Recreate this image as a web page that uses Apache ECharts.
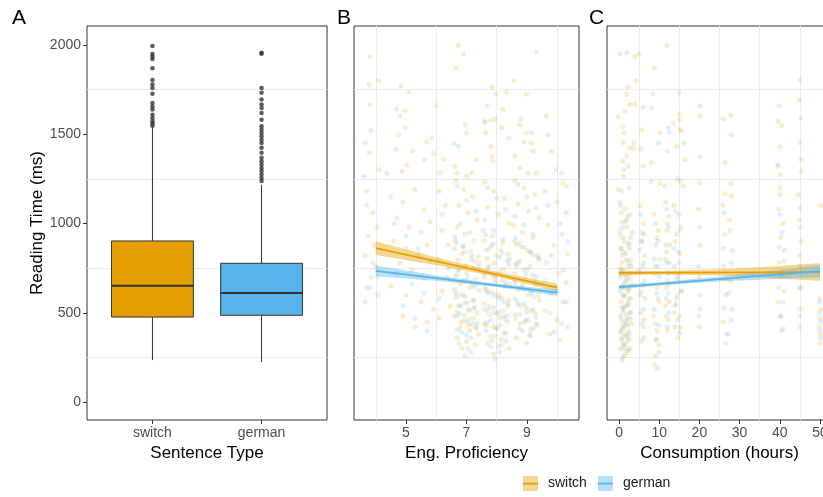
<!DOCTYPE html>
<html>
<head>
<meta charset="utf-8">
<title>Reading time</title>
<script src="https://cdn.jsdelivr.net/npm/echarts@6.0.0/dist/echarts.min.js"></script>
<style>
html, body { margin: 0; padding: 0; background: #fff; }
#chart { width: 823px; height: 497px; }
</style>
</head>
<body>
<div id="chart"></div>
<script>
// ---- values ----
const categories = ['switch', 'german']
const yTicks = [0, 500, 1000, 1500, 2000]
const yGrid = [250, 750, 1250, 1750]
const profTicks = [5, 7, 9]
const profGrid = [4, 6, 8, 10]
const consTicks = [0, 10, 20, 30, 40, 50]
const consGrid = [5, 15, 25, 35, 45]

// box stats: [x, lower whisker, Q1, median, Q3, upper whisker]
const boxSwitch = [1, 235, 476, 652, 902, 1541]
const boxGerman = [2, 224, 486, 611, 777, 1216]
const outSwitch = [1993, 1948, 1935, 1920, 1868, 1803, 1777, 1758, 1726, 1674, 1655, 1637, 1609, 1590, 1572, 1560, 1547]
const outGerman = [1955, 1950, 1758, 1732, 1693, 1665, 1646, 1618, 1581, 1544, 1525, 1506, 1488, 1469, 1450, 1423, 1395, 1367, 1348, 1330, 1311, 1293, 1274, 1255, 1237]

// panel B: proficiency vs reading time (jittered points)
const profSwitchPts = [
  [3.81,1935],[6.73,1996],[6.9,1950],[6.65,1870],[4.09,1800],[4.83,1771],[3.78,1777],[8.57,1800],[7.85,1763],[8.32,1734],
  [8.98,1725],[3.81,1665],[5.99,1660],[5.08,1734],[4.8,1603],[4.97,1631],[3.79,1395],[4.75,1497],[4.97,1535],[5.22,1404],
  [5.85,1479],[5.68,1454],[5.02,1324],[4.86,1292],[4.12,1302],[5.92,1391],[6.23,1358],[6.12,1283],[6.62,1320],[6.67,1283],
  [6.95,1553],[7.0,1507],[7.61,1566],[7.8,1577],[7.64,1507],[7.94,1585],[8.21,1637],[8.16,1535],[7.81,1432],[7.83,1376],
  [7.88,1348],[7.33,1358],[7.17,1283],[7.0,1264],[8.76,1553],[8.98,1507],[9.64,1603],[9.15,1451],[9.2,1404],[8.9,1454],
  [9.81,1404],[8.6,1376],[8.76,1311],[9.04,1283],[9.31,1283],[9.97,1302],[10.19,1227],[10.31,1208],
  [3.7,1180],[3.9,1060],[4.05,980],[3.75,930],[3.95,880],[3.65,820],[4.0,760],[3.85,700],[3.7,640],[4.05,600],
  [4.5,1150],[4.9,1120],[5.3,1190],[5.6,1080],[4.7,1030],[5.1,980],[5.5,950],[5.8,1010],[4.6,900],[5.0,860],
  [5.4,830],[5.7,880],[4.8,780],[5.2,740],[5.6,690],[4.5,650],[5.0,600],[5.5,560],[5.9,520],[4.9,480],[5.3,420],[5.7,450],
  [6.1,1180],[6.3,1100],[6.2,960],[6.4,880],[6.05,800],[6.35,700],[6.2,620],[6.45,540],[6.1,470],
  [6.65,1240],[6.9,1190],[7.2,1150],[6.75,1100],[7.05,1060],[7.35,1020],[6.7,980],[6.95,940],[7.25,900],[6.6,860],
  [6.85,830],[7.15,800],[7.4,780],[6.7,740],[7.0,720],[7.3,690],[6.8,660],[7.1,640],[6.65,610],[6.95,590],
  [7.25,570],[6.75,540],[7.05,520],[7.35,500],[6.6,480],[6.9,460],[7.2,440],[6.8,420],[7.1,400],[7.4,380],
  [6.7,360],[7.0,340],[7.3,320],[6.85,300],[7.15,280],
  [6.62,905],[6.88,872],[7.12,845],[7.38,815],[6.72,795],[6.98,765],[7.22,748],[6.63,705],[6.92,680],[7.18,655],
  [7.42,625],[6.78,598],[7.02,556],[7.28,530],[6.68,505],[6.93,488],[7.22,470],[6.82,448],[7.08,432],[7.33,410],
  [7.6,1230],[7.9,1180],[8.25,1140],[7.7,1090],[8.05,1050],[8.4,1000],[7.55,960],[7.85,930],[8.2,890],[7.65,850],
  [8.0,820],[8.35,790],[7.75,760],[8.1,730],[7.6,700],[7.95,670],[8.3,650],[7.7,620],[8.05,600],[8.4,570],
  [7.6,550],[7.9,530],[8.2,510],[7.75,490],[8.1,470],[8.35,450],[7.65,430],[8.0,410],[8.3,390],[7.8,370],
  [8.15,350],[7.7,330],[8.05,310],[8.4,300],[7.9,270],
  [7.58,905],[7.82,875],[8.12,852],[8.38,828],[7.68,805],[7.92,778],[8.22,745],[7.58,722],[7.88,705],[8.18,685],
  [8.42,662],[7.62,640],[7.85,612],[8.15,585],[8.38,540],[7.72,515],[8.02,495],[8.28,465],[7.58,440],[7.88,420],
  [8.6,1240],[8.9,1200],[9.25,1160],[8.7,1110],[9.05,1070],[9.4,1030],[8.55,990],[8.85,950],[9.2,920],[8.65,880],
  [9.0,850],[9.35,820],[8.75,790],[9.1,760],[8.6,720],[8.95,690],[9.3,660],[8.7,630],[9.05,600],[9.4,570],
  [8.8,540],[9.15,510],[8.6,490],[8.95,460],[9.3,440],[8.75,410],[9.1,380],[8.65,360],[9.0,330],
  [8.58,900],[8.82,868],[9.12,840],[9.38,805],[8.62,775],[8.88,742],[9.18,712],[8.58,682],[8.85,655],[9.12,625],
  [9.38,598],[8.68,565],[8.98,528],[9.28,498],[8.62,468],[8.92,445],[9.22,415],
  [9.6,1180],[10.0,1120],[10.3,1060],[9.7,990],[10.15,940],[9.9,880],[10.35,830],[9.65,780],[10.05,720],[10.3,670],
  [9.8,610],[10.2,560],[9.6,510],[10.0,460],[10.35,420],[9.75,380],[10.1,350]
]
const profGermanPts = [
  [9.31,1959],[4.69,1640],[3.84,1521],[3.65,1451],[4.67,1417],[4.36,1279],[3.62,1264],[5.6,1358],[6.73,1432],[6.58,1447],
  [7.7,1660],[7.97,1726],[8.8,1585],[9.15,1507],[9.7,1497],[10.14,1279],[7.6,1570],[8.4,1480],
  [3.7,1100],[3.9,780],[4.05,700],[3.65,560],[3.8,640],[4.6,1000],[5.0,930],[5.4,860],[5.8,790],[4.7,720],
  [5.2,660],[5.6,610],[4.9,540],[5.3,470],[5.7,400],[6.2,1050],[6.4,750],[6.1,580],
  [6.7,1210],[7.0,1130],[7.3,1070],[6.8,1000],[7.1,950],[6.65,890],[6.95,840],[7.25,790],[6.75,740],[7.05,700],
  [7.35,660],[6.6,630],[6.9,600],[7.2,570],[6.8,540],[7.1,510],[6.7,480],[7.0,450],[7.3,420],[6.85,390],
  [7.15,360],[6.75,330],[7.05,300],[6.95,260],
  [6.62,925],[6.9,870],[7.18,820],[7.4,760],[6.7,715],[6.98,680],[7.25,645],[6.65,585],[6.95,555],[7.22,525],
  [6.78,495],[7.08,465],[7.35,440],[6.7,405],[7.0,375],
  [7.7,1200],[8.0,1140],[8.3,1080],[7.6,1020],[7.9,960],[8.2,910],[7.75,860],[8.1,810],[8.4,770],[7.65,730],
  [7.95,690],[8.25,650],[7.7,610],[8.05,580],[8.35,550],[7.6,520],[7.9,500],[8.2,480],[7.8,460],[8.1,430],
  [7.65,400],[7.95,370],[8.3,340],[7.8,310],[8.1,280],[7.95,240],
  [7.62,935],[7.88,885],[8.18,835],[8.42,800],[7.7,750],[7.98,710],[8.28,670],[7.62,630],[7.92,595],[8.22,565],
  [7.75,535],[8.05,505],[8.35,485],[7.68,445],[7.98,415],[8.25,385],[7.85,345],[8.15,320],
  [8.7,1220],[9.0,1150],[9.3,1090],[8.6,1040],[8.9,990],[9.2,940],[8.75,890],[9.1,840],[9.4,800],[8.65,760],
  [8.95,720],[9.25,680],[8.8,640],[9.15,610],[8.6,580],[8.9,550],[9.2,520],[8.75,490],[9.05,460],[9.35,430],
  [8.85,400],[9.1,370],
  [8.62,920],[8.9,870],[9.2,825],[8.7,780],[9.0,745],[9.3,705],[8.62,665],[8.92,630],[9.22,590],[8.7,545],
  [9.0,505],[9.3,475],[8.78,440],[9.12,405],
  [9.7,1100],[10.1,1000],[10.35,900],[9.8,820],[10.2,740],[9.6,680],[10.0,620],[10.3,560],[9.75,500],[10.15,440],[9.9,390]
]
// fitted lines and confidence bands, panel B
const profFitX = [4, 10]
const profFitSwitch = [862, 641]
const profFitGerman = [734, 613]
const profBandX = [4, 6, 8, 10]
const profSwitchLo = [824, 766, 701, 620]
const profSwitchHi = [900, 810, 729, 662]
const profGermanLo = [704, 680, 644, 595]
const profGermanHi = [764, 708, 662, 631]

// panel C: consumption hours vs reading time
const consSwitchPts = [
  [4.0,1935],[5.05,1948],[11.9,1996],[8.8,1870],[4.2,1799],[2.15,1763],[1.9,1721],[-0.3,1596],[1.5,1627],[2.7,1665],
  [4.0,1669],[15.0,1730],[14.9,1613],[15.2,1525],[20.1,1659],[20.1,1600],[26.0,1584],[27.8,1605],[26.4,1342],[20.1,1373],
  [39.6,1572],[40.5,1547],[40.1,1432],[39.6,1320],[40.1,1274],[45,1804],[44.9,1693],[45,1451],[45.3,1358],[45.4,1292],
  [10.2,1507],[14.3,1432],[15.6,1516],[15,1581],[13.5,1562],[16.2,1451],[16.4,1358],[8.0,1342],[6.0,1320],[5.6,1525],
  [3.6,1451],[3.6,1423],[0.9,1543],[1.3,1507],[1.1,1451],[2.6,1423],[1.9,1376],[0.9,1348],[2.3,1320],[1.1,1264],
  [-0.2,1190],[8.0,1236],[10.2,1227],[11.4,1209],[15.2,1236],[16.0,1209],[20.0,1227],[27.8,1223],[26.4,1168],[28,1153],
  [40.1,1199],[40.1,1162],[44.6,1162],[45,1088],
  [0.2,1120],[1.5,1080],[2.8,1050],[0.6,1010],[2.0,980],[3.2,950],[0.9,920],[2.4,890],[0.3,860],[1.7,830],
  [3.0,800],[0.7,780],[2.2,760],[1.2,740],[2.6,720],[0.4,700],[1.9,680],[3.1,660],[0.8,640],[2.3,620],
  [1.4,600],[2.9,580],[0.5,560],[2.0,540],[1.1,520],[2.7,500],[0.3,480],[1.8,460],[3.2,440],[0.9,420],
  [2.4,400],[1.5,380],[0.6,360],[2.1,340],[1.2,320],[2.8,300],[1.7,270],[0.9,250],
  [0.5,1060],[1.9,1020],[0.2,960],[1.3,900],[2.6,860],[0.8,820],[2.0,790],[0.4,750],[1.6,710],[2.8,690],
  [0.9,650],[2.1,630],[1.2,590],[2.5,550],[0.6,530],[1.8,490],[2.9,470],[1.0,450],[2.2,430],[0.4,390],
  [1.7,370],[2.6,350],[1.0,330],[0.3,300],[2.0,290],
  [5.2,1100],[6.1,1000],[5.5,900],[6.3,820],[5.0,740],[5.8,660],[6.4,580],[5.3,500],[6.0,420],[5.6,340],
  [5.7,950],[6.1,780],[5.4,620],[6.2,460],
  [8.7,1050],[9.8,960],[9.2,880],[10.1,800],[8.9,720],[9.6,640],[10.0,560],[8.6,480],[9.4,400],[9.9,320],[9.1,260],[8.8,210],
  [9.4,920],[9.1,760],[9.7,580],[9.3,350],
  [11.6,1120],[12.4,1040],[11.9,960],[12.6,880],[11.5,800],[12.2,720],[11.8,640],[12.5,560],[11.7,480],[12.1,400],
  [12.0,1000],[11.8,840],[12.3,660],[11.6,540],[12.2,460],
  [13.6,1100],[14.8,1050],[15.4,980],[14.0,900],[15.1,830],[13.8,760],[14.6,690],[15.5,620],[14.2,550],[15.0,480],
  [13.9,420],[14.7,360],[14.3,940],[14.9,720],[14.5,600],[13.7,500],[15.2,420],
  [19.8,1080],[20.1,880],[19.9,700],[20.2,520],[20.0,420],
  [25.8,1100],[27.5,1020],[26.3,940],[28.2,850],[26.0,760],[27.8,680],[26.6,600],[28.1,520],[25.9,450],[27.2,380],[26.5,330],
  [39.7,1080],[40.8,1000],[40.2,920],[41.1,850],[39.8,780],[40.5,700],[41.0,620],[39.6,560],[40.3,480],[40.9,410],
  [44.8,1020],[45.2,900],[45.0,760],[44.9,640],[45.1,520],[45.0,420],
  [49.8,580],[50.2,520],[50.0,470],[49.9,420],[50.1,380],[50.0,330],[50.2,1100]
]
const consGermanPts = [
  [0.25,1950],[1.9,1957],[6.0,1650],[8.1,1646],[8.4,1726],[28.0,1497],[39.9,1659],[45.2,1590],[9.8,1451],[12.3,1535],
  [12.5,1507],[12.0,1404],[1.2,1300],[2.5,1200],[0.6,1180],[14.5,1250],[39.5,1330],[5.4,1420],
  [0.4,1100],[2.1,1040],[1.0,980],[2.9,920],[0.6,860],[1.8,800],[3.0,760],[0.3,720],[1.5,680],[2.6,640],
  [0.9,600],[2.2,560],[1.2,530],[2.8,500],[0.5,470],[1.9,440],[1.0,410],[2.5,380],[0.7,350],[1.6,320],
  [2.3,290],[1.2,260],[0.8,230],
  [1.5,1010],[0.2,940],[2.4,880],[1.1,840],[2.7,780],[0.5,740],[2.0,700],[1.2,660],[0.3,620],[2.5,580],
  [1.7,540],[0.9,500],[2.2,470],[1.4,430],[0.4,400],[2.0,360],[1.0,300],
  [5.4,1050],[6.2,940],[5.1,850],[5.9,760],[6.4,680],[5.3,600],[6.0,520],[5.6,440],[6.2,360],[5.8,900],[6.0,650],
  [9.0,1000],[9.7,900],[8.8,800],[10.0,700],[9.3,610],[8.7,520],[9.8,430],[9.2,350],[9.9,280],[9.5,190],[9.6,760],[9.0,440],
  [11.8,1080],[12.3,980],[11.6,880],[12.5,780],[12.0,680],[11.7,580],[12.4,500],[11.9,420],[11.9,780],[12.2,610],
  [14.1,1070],[15.2,960],[13.7,860],[14.9,780],[14.4,700],[15.4,620],[13.9,540],[14.6,460],[15.1,390],[14.7,840],[14.3,580],
  [20.0,980],[19.8,760],[20.1,600],[19.9,480],
  [26.2,1060],[27.6,960],[25.9,860],[28.0,780],[26.8,690],[27.3,610],[26.1,530],[27.9,460],[26.7,380],
  [40.0,1050],[40.6,950],[39.8,870],[41.0,790],[40.3,710],[39.7,640],[40.8,560],[40.1,480],[40.4,400],
  [45.1,980],[44.9,820],[45.2,640],[45.0,480],
  [50.0,560],[49.9,500],[50.1,450],[50.0,400],[50.2,360]
]
const consFitX = [0, 50]
const consFitSwitch = [723, 728]
const consFitGerman = [644, 733]
const consBandX = [0, 10, 25, 40, 50]
const consSwitchLo = [709, 714, 708, 692, 678]
const consSwitchHi = [737, 734, 744, 762, 778]
const consGermanLo = [632, 653, 675, 690, 698]
const consGermanHi = [656, 671, 703, 740, 768]

// ---- styling ----
const ORANGE = '#E69F00'
const BLUE = '#56B4E9'
const ORANGE_BAND = 'rgba(230,159,0,0.42)'
const BLUE_BAND = 'rgba(86,180,233,0.42)'
const FONT = '"Liberation Sans", Arial, sans-serif'
const TICK_COLOR = '#4D4D4D'
const PT_OPACITY = 0.19

const chart = echarts.init(document.getElementById('chart'), null, { renderer: 'canvas' })

function gridLines(xs, ys) {
  const data = []
  ys.forEach(v => data.push({ yAxis: v }))
  xs.forEach(v => data.push({ xAxis: v }))
  return {
    silent: true,
    z: 1,
    symbol: 'none',
    label: { show: false },
    lineStyle: { color: '#EBEBEB', width: 1, type: 'solid' },
    data: data
  }
}

function renderBox(params, api) {
  const x = api.value(0)
  const low = api.coord([x, api.value(1)])
  const q1 = api.coord([x, api.value(2)])
  const med = api.coord([x, api.value(3)])
  const q3 = api.coord([x, api.value(4)])
  const high = api.coord([x, api.value(5)])
  const w = api.size([0.75, 0])[0]
  const left = med[0] - w / 2
  const fill = params.dataIndex === 0 ? ORANGE : BLUE
  const stroke = { stroke: '#333', lineWidth: 1 }
  return {
    type: 'group',
    children: [
      { type: 'line', shape: { x1: low[0], y1: low[1], x2: q1[0], y2: q1[1] }, style: stroke },
      { type: 'line', shape: { x1: q3[0], y1: q3[1], x2: high[0], y2: high[1] }, style: stroke },
      { type: 'rect', shape: { x: left, y: q3[1], width: w, height: q1[1] - q3[1] }, style: { fill: fill, stroke: '#333', lineWidth: 1 } },
      { type: 'line', shape: { x1: left, y1: med[1], x2: left + w, y2: med[1] }, style: { stroke: '#333', lineWidth: 2 } }
    ]
  }
}

function renderBand(color) {
  return function (params, api) {
    if (params.dataIndex !== 0) return
    const n = params.dataInsideLength
    const top = []
    const bottom = []
    for (let i = 0; i < n; i++) {
      top.push(api.coord([api.value(0, i), api.value(2, i)]))
      bottom.unshift(api.coord([api.value(0, i), api.value(1, i)]))
    }
    return { type: 'polygon', shape: { points: top.concat(bottom) }, style: { fill: color } }
  }
}

const zip = (xs, a, b) => xs.map((x, i) => b ? [x, a[i], b[i]] : [x, a[i]])

function panelSeries(idx, switchPts, germanPts, bandX, swLo, swHi, deLo, deHi, fitX, swFit, deFit, vGrid) {
  const common = { xAxisIndex: idx, yAxisIndex: idx }
  return [
    Object.assign({
      name: 'switch', type: 'scatter', z: 2, symbolSize: 5, data: switchPts,
      itemStyle: { color: ORANGE, opacity: PT_OPACITY }, markLine: gridLines(vGrid, yGrid)
    }, common),
    Object.assign({
      name: 'german', type: 'scatter', z: 2, symbolSize: 5, data: germanPts,
      itemStyle: { color: BLUE, opacity: PT_OPACITY }
    }, common),
    Object.assign({ name: 'switch', type: 'custom', z: 3, data: zip(bandX, swLo, swHi), renderItem: renderBand(ORANGE_BAND) }, common),
    Object.assign({ name: 'german', type: 'custom', z: 3, data: zip(bandX, deLo, deHi), renderItem: renderBand(BLUE_BAND) }, common),
    Object.assign({ name: 'switch', type: 'line', z: 4, showSymbol: false, data: zip(fitX, swFit), lineStyle: { color: ORANGE, width: 1.8 }, itemStyle: { color: ORANGE } }, common),
    Object.assign({ name: 'german', type: 'line', z: 4, showSymbol: false, data: zip(fitX, deFit), lineStyle: { color: BLUE, width: 1.8 }, itemStyle: { color: BLUE } }, common)
  ]
}

const tickStyle = { show: true, inside: false, length: 4, lineStyle: { color: '#333' } }
const yAxisBase = {
  type: 'value', min: -100, max: 2105,
  splitLine: { show: false }, axisLine: { show: false, onZero: false }
}
const xAxisBase = {
  type: 'value', splitLine: { show: false }, axisLine: { show: false, onZero: false },
  nameLocation: 'middle', nameGap: 22,
  nameTextStyle: { color: '#000', fontSize: 17, fontFamily: FONT },
  axisLabel: { color: TICK_COLOR, fontSize: 14, fontFamily: FONT, margin: 6 }
}

const linePath = 'path://M0,0L15,0L15,0.01L0,0.01Z M0,6.8L15,6.8L15,8.4L0,8.4Z M0,14.99L15,14.99L15,15L0,15Z'
const gridStyle = { show: true, borderColor: '#333', borderWidth: 1, backgroundColor: '#fff', outerBoundsMode: 'none', containLabel: false }

chart.setOption({
  animation: false,
  backgroundColor: '#fff',
  textStyle: { fontFamily: FONT },
  grid: [
    Object.assign({ left: 87, top: 26, width: 240, height: 394 }, gridStyle),
    Object.assign({ left: 354, top: 26, width: 225, height: 394 }, gridStyle),
    Object.assign({ left: 607, top: 26, width: 225, height: 394 }, gridStyle)
  ],
  xAxis: [
    Object.assign({}, xAxisBase, {
      gridIndex: 0, min: 0.4, max: 2.6, name: 'Sentence Type',
      axisTick: Object.assign({ customValues: [1, 2] }, tickStyle),
      axisLabel: Object.assign({}, xAxisBase.axisLabel, { customValues: [1, 2], formatter: v => categories[Math.round(v) - 1] })
    }),
    Object.assign({}, xAxisBase, {
      gridIndex: 1, min: 3.28, max: 10.72, name: 'Eng. Proficiency',
      axisTick: Object.assign({ customValues: profTicks }, tickStyle),
      axisLabel: Object.assign({}, xAxisBase.axisLabel, { customValues: profTicks })
    }),
    Object.assign({}, xAxisBase, {
      gridIndex: 2, min: -3, max: 53, name: 'Consumption (hours)',
      axisTick: Object.assign({ customValues: consTicks }, tickStyle),
      axisLabel: Object.assign({}, xAxisBase.axisLabel, { customValues: consTicks })
    })
  ],
  yAxis: [
    Object.assign({}, yAxisBase, {
      gridIndex: 0, name: 'Reading Time (ms)', nameLocation: 'middle', nameGap: 36,
      nameTextStyle: { color: '#000', fontSize: 17, fontFamily: FONT },
      axisTick: Object.assign({ customValues: yTicks }, tickStyle),
      axisLabel: { color: TICK_COLOR, fontSize: 14, fontFamily: FONT, margin: 6, customValues: yTicks, formatter: v => String(v) }
    }),
    Object.assign({}, yAxisBase, { gridIndex: 1, axisTick: { show: false }, axisLabel: { show: false } }),
    Object.assign({}, yAxisBase, { gridIndex: 2, axisTick: { show: false }, axisLabel: { show: false } })
  ],
  legend: [
    {
      left: 523, top: 476, padding: 0, itemWidth: 15, itemHeight: 15, itemGap: 11, selectedMode: false,
      textStyle: { color: '#1a1a1a', fontSize: 14, fontFamily: FONT, padding: [0, 0, 0, 5] },
      data: [
        { name: 'switch', icon: 'rect', itemStyle: { color: ORANGE_BAND, opacity: 1 } },
        { name: 'german', icon: 'rect', itemStyle: { color: BLUE_BAND, opacity: 1 } }
      ]
    },
    {
      left: 523, top: 476, padding: 0, itemWidth: 15, itemHeight: 15, itemGap: 11, selectedMode: false,
      textStyle: { color: 'rgba(0,0,0,0)', fontSize: 14, fontFamily: FONT, padding: [0, 0, 0, 5] },
      data: [
        { name: 'switch', icon: linePath, itemStyle: { color: ORANGE, opacity: 1 } },
        { name: 'german', icon: linePath, itemStyle: { color: BLUE, opacity: 1 } }
      ]
    }
  ],
  graphic: [
    { type: 'text', left: 12, top: 8, style: { text: 'A', fontSize: 21, fill: '#000', fontFamily: FONT } },
    { type: 'text', left: 337, top: 8, style: { text: 'B', fontSize: 21, fill: '#000', fontFamily: FONT } },
    { type: 'text', left: 589, top: 8, style: { text: 'C', fontSize: 21, fill: '#000', fontFamily: FONT } }
  ],
  series: [
    {
      type: 'scatter', xAxisIndex: 0, yAxisIndex: 0, z: 2, symbolSize: 4.5,
      data: outSwitch.map(v => [1, v]).concat(outGerman.map(v => [2, v])),
      itemStyle: { color: '#333' }, markLine: gridLines([], yGrid)
    },
    {
      type: 'custom', xAxisIndex: 0, yAxisIndex: 0, z: 3,
      data: [boxSwitch, boxGerman], renderItem: renderBox
    }
  ]
    .concat(panelSeries(1, profSwitchPts, profGermanPts, profBandX, profSwitchLo, profSwitchHi,
      profGermanLo, profGermanHi, profFitX, profFitSwitch, profFitGerman, profGrid))
    .concat(panelSeries(2, consSwitchPts, consGermanPts, consBandX, consSwitchLo, consSwitchHi,
      consGermanLo, consGermanHi, consFitX, consFitSwitch, consFitGerman, consGrid))
})
</script>
</body>
</html>
